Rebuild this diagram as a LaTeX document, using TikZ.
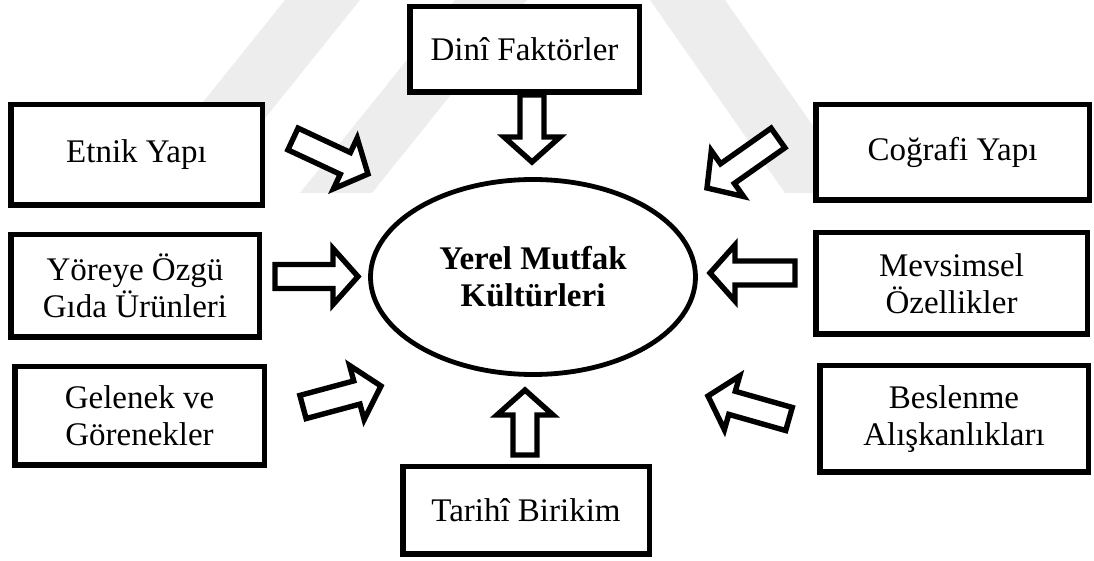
\documentclass[tikz,border=0pt]{standalone}
\usepackage{fontspec}
\setmainfont{Liberation Serif}
\usetikzlibrary{shapes.geometric,calc}

\definecolor{wmgray}{gray}{0.93}

\tikzset{
  factor/.style={draw, line width=2.75pt, rectangle, inner sep=0pt, align=center,
    fill=white, font=\fontsize{16.5}{18.5}\selectfont},
  core/.style={draw, line width=2.4pt, ellipse, inner sep=0pt, align=center,
    fill=white, font=\fontsize{16.5}{18.5}\selectfont\bfseries},
  blockarrow/.style={draw, line width=2.7pt, fill=white, line join=miter},
  mark band/.style={fill=wmgray, draw=none},
}

% hollow block arrow from tail coordinate #1 to tip coordinate #2
\newcommand{\fatarrow}[2]{%
  \coordinate (#1-#2-hb) at ($(#2)!12.5pt!(#1)$);
  \draw[blockarrow]
    ($(#1)!6pt!90:(#2)$) -- ($(#1-#2-hb)!6pt!90:(#2)$)
    -- ($(#1-#2-hb)!14pt!90:(#2)$) -- (#2)
    -- ($(#1-#2-hb)!14pt!-90:(#2)$) -- ($(#1-#2-hb)!6pt!-90:(#2)$)
    -- ($(#1)!6pt!-90:(#2)$) -- cycle;
}

\begin{document}
\begin{tikzpicture}[x=0.5pt, y=-0.5pt]
\useasboundingbox (0,0) rectangle (1094,561);

% pale background emblem
\fill[mark band] (130,193) -- (205,193) -- (360,0) -- (285,0) -- cycle;
\fill[mark band] (300,193) -- (372,193) -- (527,0) -- (455,0) -- cycle;
\fill[mark band] (650,0) -- (725,0) -- (860,193) -- (785,193) -- cycle;

% central concept
\node[core, minimum width=162.5pt, minimum height=97.5pt] (mutfak) at (533,277)
  {Yerel Mutfak\\Kültürleri};

% influencing factors
\node[factor, minimum width=114.75pt, minimum height=42.75pt] (dini) at (524.5,49.5) {Dinî Faktörler};
\node[factor, minimum width=123.25pt, minimum height=43.75pt] (tarihi) at (526,510.5) {Tarihî Birikim};
\node[factor, minimum width=125.75pt, minimum height=50.25pt] (etnik) at (136.5,155) {Etnik Yapı};
\node[factor, minimum width=124.25pt, minimum height=51.25pt] (yore) at (135,286) {Yöreye Özgü\\Gıda Ürünleri};
\node[factor, minimum width=124.75pt, minimum height=49.25pt] (gelenek) at (139.5,416) {Gelenek ve\\Görenekler};
\node[factor, minimum width=136.75pt, minimum height=47.75pt] (cografi) at (952.5,152.5) {Coğrafi Yapı};
\node[factor, minimum width=135.75pt, minimum height=50.75pt] (mevsim) at (951.5,283.5) {Mevsimsel\\Özellikler};
\node[factor, minimum width=134.25pt, minimum height=53.25pt] (beslenme) at (954,419) {Beslenme\\Alışkanlıkları};

% arrow tails and tips
\coordinate (dini-t) at (532,95);     \coordinate (dini-p) at (532,162);
\coordinate (tarihi-t) at (525,455);  \coordinate (tarihi-p) at (525,390);
\coordinate (etnik-t) at (293,139);   \coordinate (etnik-p) at (368,174);
\coordinate (yore-t) at (275,276.5);  \coordinate (yore-p) at (358,276.5);
\coordinate (gelenek-t) at (303,407); \coordinate (gelenek-p) at (381,386);
\coordinate (cografi-t) at (778,138); \coordinate (cografi-p) at (707,188);
\coordinate (mevsim-t) at (795,273);  \coordinate (mevsim-p) at (710,273);
\coordinate (beslenme-t) at (789,419);\coordinate (beslenme-p) at (708,396);

\fatarrow{dini-t}{dini-p}
\fatarrow{tarihi-t}{tarihi-p}
\fatarrow{etnik-t}{etnik-p}
\fatarrow{yore-t}{yore-p}
\fatarrow{gelenek-t}{gelenek-p}
\fatarrow{cografi-t}{cografi-p}
\fatarrow{mevsim-t}{mevsim-p}
\fatarrow{beslenme-t}{beslenme-p}
\end{tikzpicture}
\end{document}
